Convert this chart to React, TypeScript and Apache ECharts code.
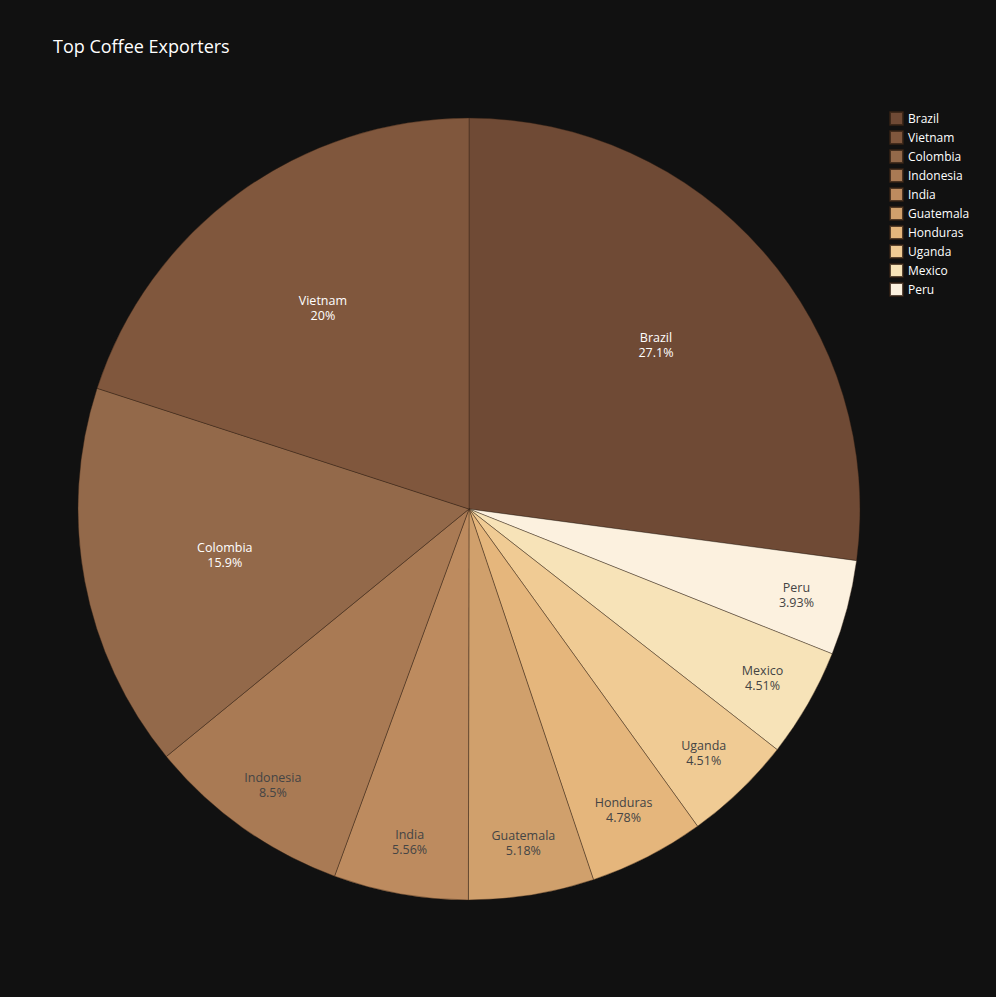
import React, { useEffect, useRef } from 'react';
import * as echarts from 'echarts';

const countries = ['Brazil', 'Vietnam', 'Colombia', 'Indonesia', 'India', 'Guatemala', 'Honduras', 'Uganda', 'Mexico', 'Peru'];
const shares = [27.1, 20, 15.9, 8.5, 5.56, 5.18, 4.78, 4.51, 4.51, 3.93];
const colors = ['#6f4a35', '#80573d', '#93694a', '#a97a54', '#bd8b5f', '#d0a06c', '#e5b67c', '#f0cb94', '#f7e3b8', '#fcf1df'];
const lightText = [true, true, true, false, false, false, false, false, false, false];
// big slices get labels nearer the centre, small slices nearer the rim
const innerLabel = [true, true, true, false, false, false, false, false, false, false];

const App = () => {
  const chartRef = useRef<HTMLDivElement>(null);

  useEffect(() => {
    if (!chartRef.current) return;
    const chart = echarts.init(chartRef.current, null, { renderer: 'svg' });
    const build = (mode: 'main' | 'inner' | 'outer') => {
      const items = countries.map((name, i) => ({
        name,
        value: shares[i],
        itemStyle: mode === 'main' ? { color: colors[i] } : { color: 'rgba(0,0,0,0)', borderWidth: 0 },
        label: {
          show: mode === 'inner' ? innerLabel[i] : mode === 'outer' ? !innerLabel[i] : false,
          color: lightText[i] ? '#ffffff' : '#444444',
        },
      }));
      return [items[0], ...items.slice(1).reverse()];
    };
    const base = {
      type: 'pie',
      center: [469, 509],
      startAngle: 90,
      clockwise: true,
      labelLine: { show: false },
      emphasis: { disabled: true },
      label: {
        position: 'inside',
        fontSize: 12.5,
        lineHeight: 15,
        fontFamily: 'Open Sans, sans-serif',
        formatter: (p: any) => `${p.name}\n${p.value}%`,
      },
    };
    chart.setOption({
      animation: false,
      backgroundColor: '#111111',
      title: {
        text: 'Top Coffee Exporters',
        left: 48,
        top: 32,
        textStyle: { color: '#ffffff', fontSize: 18, fontWeight: 'normal', fontFamily: 'Open Sans, sans-serif' },
      },
      legend: {
        orient: 'vertical',
        left: 884,
        top: 106,
        data: countries,
        itemWidth: 13,
        itemHeight: 13,
        itemGap: 4,
        icon: 'rect',
        textStyle: { color: '#ffffff', fontSize: 12, fontFamily: 'Open Sans, sans-serif' },
      },
      series: [
        { ...base, radius: [0, 391], data: build('main'), itemStyle: { borderColor: 'rgba(50,32,20,0.8)', borderWidth: 0.5 } },
        { ...base, radius: [100, 391], data: build('inner'), silent: true },
        { ...base, radius: [280, 391], data: build('outer'), silent: true },
      ],
    });
    return () => chart.dispose();
  }, []);

  return <div ref={chartRef} style={{ width: 996, height: 997, position: 'absolute', left: 0, top: 0 }} />;
};

export default App;
